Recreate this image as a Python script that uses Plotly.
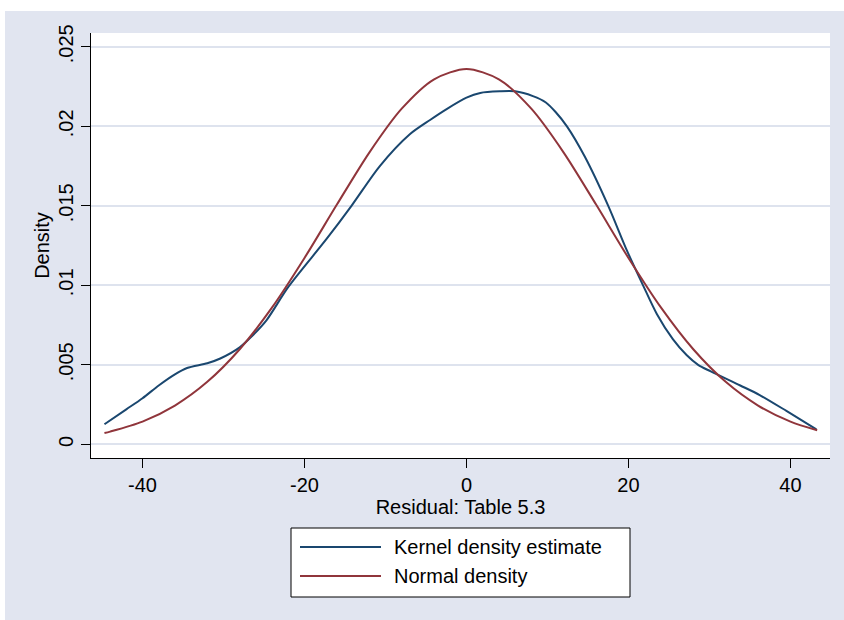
import plotly.graph_objects as go

# ---- data ----
kde_x = [-44.7, -42.0, -40.0, -38.0, -36.0, -34.5, -32.0, -30.4, -28.0, -26.5, -24.7,
         -22.0, -17.3, -14.2, -10.7, -7.0, -4.5, -2.4, 0.0, 1.7, 4.1, 6.0, 8.2, 9.8,
         11.0, 12.4, 14.6, 17.5, 19.8, 21.8, 23.5, 25.5, 27.2, 28.6, 30.1, 33.8,
         36.2, 39.5, 43.2]
kde_y = [0.00126, 0.0022, 0.0029, 0.0037, 0.0044, 0.0048, 0.0051, 0.0054, 0.0061, 0.0068, 0.0078,
         0.0099, 0.0129, 0.0150, 0.0175, 0.0195, 0.0204, 0.0211, 0.0218, 0.0221, 0.0222, 0.0222, 0.0219, 0.0215,
         0.0209, 0.0200, 0.0181, 0.0150, 0.0122, 0.0100, 0.0082, 0.0066, 0.0056, 0.0050, 0.0046, 0.0037,
         0.0031, 0.0021, 0.00094]

norm_x = [-44.7, -44.0, -40.0, -36.0, -32.0, -28.0, -24.0, -20.0, -16.0, -12.0, -8.0, -4.0, 0.0,
          4.0, 8.0, 12.0, 16.0, 20.0, 24.0, 28.0, 32.0, 36.0, 40.0, 43.3]
norm_y = [0.00071, 0.00080, 0.00143, 0.00244, 0.00393, 0.00598, 0.00861, 0.01172, 0.01508, 0.01835,
          0.02111, 0.02296, 0.02361, 0.02296, 0.02111, 0.01835, 0.01508, 0.01172, 0.00861, 0.00598,
          0.00393, 0.00244, 0.00143, 0.00089]

x_ticks = [-40, -20, 0, 20, 40]
x_tick_text = ["-40", "-20", "0", "20", "40"]
y_ticks = [0, 0.005, 0.01, 0.015, 0.02, 0.025]
y_tick_text = ["0", ".005", ".01", ".015", ".02", ".025"]
series_names = ["Kernel density estimate", "Normal density"]
x_title = "Residual: Table 5.3"
y_title = "Density"

# ---- styling ----
W, H = 844, 620
L, R, T, B = 91, 14, 33, 162
BG = "#E1E5F0"
GRID = "#DEE3EE"
NAVY = "#1A476F"
MAROON = "#90353B"
FONT = "Arial, Liberation Sans, sans-serif"


def px2x(px):
    return (px - L) / (W - L - R)


def px2y(py):
    return (H - B - py) / (H - T - B)


fig = go.Figure()
fig.add_trace(go.Scatter(x=kde_x, y=kde_y, mode="lines", name=series_names[0],
                         line=dict(color=NAVY, width=2, shape="spline", smoothing=0.8), showlegend=False))
fig.add_trace(go.Scatter(x=norm_x, y=norm_y, mode="lines", name=series_names[1],
                         line=dict(color=MAROON, width=2, shape="spline", smoothing=0.8), showlegend=False))

shapes = [
    # white strip at top / left of the figure (image crop)
    dict(type="rect", xref="paper", yref="paper", x0=px2x(-5), x1=px2x(W + 5), y0=px2y(11), y1=px2y(-5),
         fillcolor="white", line=dict(width=0), layer="above"),
    dict(type="rect", xref="paper", yref="paper", x0=px2x(-5), x1=px2x(5), y0=px2y(H + 5), y1=px2y(-5),
         fillcolor="white", line=dict(width=0), layer="above"),
    # legend box
    dict(type="rect", xref="paper", yref="paper", x0=px2x(291), x1=px2x(630), y0=px2y(597), y1=px2y(528),
         fillcolor="white", line=dict(color="black", width=1), layer="above"),
    dict(type="line", xref="paper", yref="paper", x0=px2x(300), x1=px2x(381), y0=px2y(547), y1=px2y(547),
         line=dict(color=NAVY, width=2), layer="above"),
    dict(type="line", xref="paper", yref="paper", x0=px2x(300), x1=px2x(381), y0=px2y(576), y1=px2y(576),
         line=dict(color=MAROON, width=2), layer="above"),
]

annotations = [
    dict(xref="paper", yref="paper", x=px2x(392), y=px2y(547), text=series_names[0], showarrow=False,
         xanchor="left", yanchor="middle", font=dict(family=FONT, size=20, color="black")),
    dict(xref="paper", yref="paper", x=px2x(392), y=px2y(576), text=series_names[1], showarrow=False,
         xanchor="left", yanchor="middle", font=dict(family=FONT, size=20, color="black")),
]

fig.update_layout(
    width=W, height=H,
    margin=dict(l=L, r=R, t=T, b=B, pad=0),
    paper_bgcolor=BG, plot_bgcolor="white",
    font=dict(family=FONT, size=20, color="black"),
    shapes=shapes, annotations=annotations,
    showlegend=False,
    xaxis=dict(range=[-46.36, 44.88], tickvals=x_ticks, ticktext=x_tick_text, ticks="outside", ticklen=9,
               tickwidth=1, tickcolor="black", showline=True, linecolor="black", linewidth=1, showgrid=False,
               zeroline=False, tickfont=dict(size=20),
               title=dict(text=x_title, standoff=0, font=dict(size=20))),
    yaxis=dict(range=[-0.00086, 0.02587], tickvals=y_ticks, ticktext=y_tick_text, ticks="outside",
               ticklen=9, tickwidth=1, tickcolor="black", showline=True, linecolor="black", linewidth=1,
               showgrid=True, gridcolor=GRID, gridwidth=2, zeroline=False, tickangle=-90,
               tickfont=dict(size=20),
               title=dict(text=y_title, standoff=0, font=dict(size=20))),
)

fig.write_html("out.html", config={"displayModeBar": False},
               post_script="document.body.style.margin='0px';document.body.style.padding='0px';"
                           "document.body.style.backgroundColor='" + BG + "';")
